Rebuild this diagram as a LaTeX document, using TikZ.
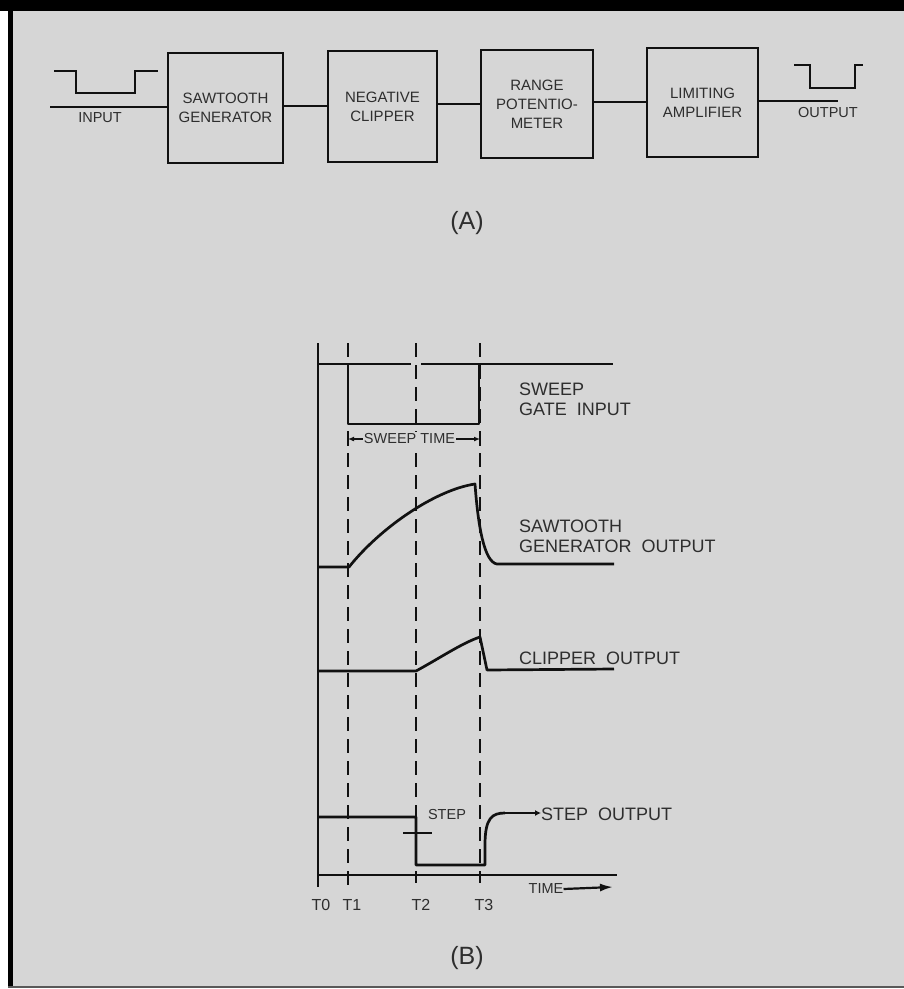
\documentclass[tikz,border=0pt]{standalone}
\usepackage{fontspec}
\setmainfont{Liberation Sans}
\usetikzlibrary{arrows.meta}
\definecolor{bg}{HTML}{D6D6D6}
\definecolor{ink}{HTML}{111111}
\definecolor{txt}{HTML}{2E2E2E}
\newcommand\gapw{\hspace{10pt}}
\begin{document}
\begin{tikzpicture}[x=1pt,y=-1pt,
  blk/.style={draw=ink,line width=2.1pt,align=center,text=txt,inner sep=0,
    font=\fontsize{15}{19}\selectfont},
  lbl/.style={text=txt,inner sep=0,align=left,anchor=north west,
    font=\fontsize{18}{19.5}\selectfont},
  small/.style={text=txt,inner sep=0,font=\fontsize{14.5}{16}\selectfont},
  figcap/.style={text=txt,inner sep=0,font=\fontsize{25}{28}\selectfont},
  wire/.style={draw=ink,line width=2.2pt},
  sig/.style={draw=ink,line width=2.7pt,line join=round},
  guide/.style={draw=ink,line width=2pt,dash pattern=on 14pt off 8pt}]
% frame
\useasboundingbox (0,0) rectangle (904,989);
\fill[white] (0,0) rectangle (904,989);
\fill[bg] (8,0) rectangle (904,988);
\fill[black] (0,0) rectangle (904,11);
\fill[black] (8,0) rectangle (13,988);
\fill[gray!70!black] (8,986) rectangle (904,988);

% ---------- (A) block diagram ----------
\node[blk,minimum width=115pt,minimum height=110pt] (saw) at (225.5,108) {SAWTOOTH\\GENERATOR};
\node[blk,minimum width=109pt,minimum height=111pt] (clip) at (382.5,106.5) {NEGATIVE\\CLIPPER};
\node[blk,minimum width=112pt,minimum height=108pt] (pot) at (537,104) {RANGE\\POTENTIO-\\METER};
\node[blk,minimum width=111pt,minimum height=109pt] (amp) at (702.5,102.5) {LIMITING\\AMPLIFIER};

\coordinate (inL) at (50,107);
\coordinate (outR) at (838,101);
\draw[wire] (inL) -- (inL -| saw.west);
\draw[wire] (saw.east |- 0,106) -- (clip.west |- 0,106);
\draw[wire] (clip.east |- 0,104) -- (pot.west |- 0,104);
\draw[wire] (pot.east |- 0,102) -- (amp.west |- 0,102);
\draw[wire] (amp.east |- outR) -- (outR);

% input / output pulses
\draw[wire] (54,71) -- (76,71) -- (76,93) -- (135,93) -- (135,71) -- (158,71);
\draw[wire] (794,65) -- (810,65) -- (810,88) -- (855,88) -- (855,65) -- (863,65);
\node[small] (inlbl) at (100,118) {INPUT};
\node[small] (outlbl) at (828,113) {OUTPUT};

\node[figcap] (capA) at (467,223) {(A)};

% ---------- (B) timing diagram ----------
\coordinate (t0) at (318,343);
\coordinate (t1) at (348,343);
\coordinate (t2) at (416,343);
\coordinate (t3) at (480,343);

\draw[guide] (t1) -- (348,888);
\draw[guide] (t2) -- (416,875);
\draw[guide] (t3) -- (480,875);

% axes
\draw[sig] (t0) -- (318,887);
\coordinate (axR) at (617,875);
\draw[sig] (318,875) -- (axR);
\draw[sig] (416,875) -- (416,883);
\draw[sig] (480,875) -- (480,883);

% sweep gate
\draw[sig] (318,364) -- (411,364);
\draw[sig] (421,364) -- (613,364);
\draw[sig] (348,364) -- (348,424) -- (479,424) -- (479,364);

% sweep time dimension
\node[small,fill=bg,inner xsep=1pt,inner ysep=2pt] (swt) at (409.5,439) {SWEEP TIME};
\draw[line width=1.5pt,draw=ink,-{Latex[length=6pt,width=5pt]}] (swt.west) -- (swt.west -| t1);
\draw[line width=1.5pt,draw=ink,-{Latex[length=6pt,width=5pt]}] (swt.east) -- (swt.east -| t3);
\draw[line width=1.8pt,draw=ink] (348,433) -- (348,446);
\draw[line width=1.8pt,draw=ink] (480,433) -- (480,446);

% sawtooth output
\draw[sig] (318,567) -- (349,567) .. controls (380,528) and (435,490) .. (475,484)
  .. controls (478,525) and (484,562) .. (497,564) -- (614,564);

% clipper output
\draw[sig] (318,671) -- (416,671) .. controls (440,658) and (462,643) .. (480,637)
  -- (487,670) -- (614,669);

% step output
\draw[sig] (318,817) -- (416,817) -- (416,865) -- (485,865) -- (485,845)
  .. controls (485,818) and (492,813) .. (505,813);
\draw[line width=1.8pt,draw=ink] (403,833) -- (432,833);

% labels
\node[lbl] (sgl) at (519,383) {SWEEP\\GATE\gapw INPUT};
\node[lbl] (sgo) at (519,520) {SAWTOOTH\\GENERATOR\gapw OUTPUT};
\node[lbl] (cpo) at (519,652) {CLIPPER\gapw OUTPUT};
\node[lbl] (sto) at (541,808) {STEP\gapw OUTPUT};
\draw[sig,-{Latex[length=6pt,width=6pt]}] (505,813) -- (sto.west |- 0,813);
\node[small] (stp) at (447,814) {STEP};

% time axis label and arrow
\node[small] (tim) at (546,889) {TIME};
\coordinate (timR) at (613,887);
\draw[line width=2.2pt,draw=ink,-{Latex[length=13pt,width=8pt]}] (tim.east) -- (timR);

\node[small,font=\fontsize{16}{18}\selectfont] (lt0) at (321,905) {T0};
\node[small,font=\fontsize{16}{18}\selectfont] (lt1) at (352,905) {T1};
\node[small,font=\fontsize{16}{18}\selectfont] (lt2) at (421,905) {T2};
\node[small,font=\fontsize{16}{18}\selectfont] (lt3) at (484,905) {T3};

\node[figcap] (capB) at (467,958) {(B)};
\end{tikzpicture}
\end{document}
